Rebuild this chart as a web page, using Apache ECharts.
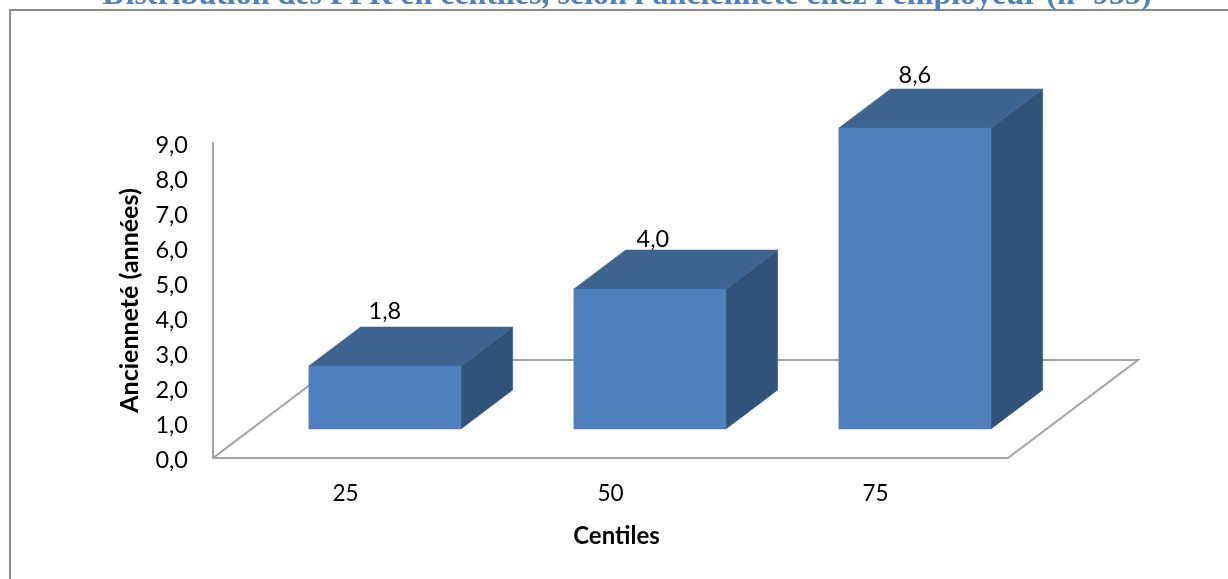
<!DOCTYPE html>
<html>
<head>
<meta charset="utf-8">
<style>html,body{margin:0;padding:0;background:#fff;overflow:hidden}#c{width:1228px;height:579px}</style>
<script src="https://cdn.jsdelivr.net/npm/echarts@6/dist/echarts.min.js"></script>
</head>
<body>
<div id="c"></div>
<script>
const titleText = "Distribution des PPR en centiles, selon l'ancienneté chez l'employeur (n=955)";
const yAxisName = "Ancienneté (années)";
const xAxisName = "Centiles";
const categories = ["25", "50", "75"];
const values = [1.8, 4.0, 8.6];
const labelNudgeX = [0, 3, 0];
const labelNudgeY = [2, 7, 4];

const FONT = "Lato";
const DEPTH_X = 130, DEPTH_Y = 98;       // oblique projection of the floor
const BAR_FRACTION = 0.574;
const BAR_NEAR = 0.303, BAR_FAR = 0.694; // depth span of a bar on the floor
const AXIS_GREY = "#a3a3a3";

const poly = (points, fill) => ({
  type: "polygon",
  shape: { points },
  style: { fill, stroke: fill, lineWidth: 0.5 }
});

function renderFloor(params, api) {
  const band = api.size([1, 0])[0];
  const first = api.coord([0, 0]);
  const last = api.coord([categories.length - 1, 0]);
  const a = [first[0] - band / 2, first[1]];
  const b = [last[0] + band / 2, last[1]];
  return {
    type: "polyline",
    shape: { points: [
      a,
      [a[0] + DEPTH_X, a[1] - DEPTH_Y],
      [b[0] + DEPTH_X, b[1] - DEPTH_Y],
      b
    ] },
    style: { fill: null, stroke: AXIS_GREY, lineWidth: 2 },
    silent: true
  };
}

function renderBar(params, api) {
  const i = api.value(0), v = api.value(1);
  const base = api.coord([i, 0]);
  const top = api.coord([i, v]);
  const w = api.size([1, 0])[0] * BAR_FRACTION;
  const nx = BAR_NEAR * DEPTH_X, ny = 0.296 * DEPTH_Y;
  const dx = (BAR_FAR - 0.296) * DEPTH_X, dy = (BAR_FAR - 0.296) * DEPTH_Y;
  const l = base[0] - w / 2 + nx, r = base[0] + w / 2 + nx;
  const by = base[1] - ny, ty = top[1] - ny;
  return {
    type: "group",
    children: [
      poly([[r, by], [r + dx, by - dy], [r + dx, ty - dy], [r, ty]], "#325379"),
      poly([[l, ty], [r, ty], [r + dx, ty - dy], [l + dx, ty - dy]], "#3d6490"),
      poly([[l, by], [r, by], [r, ty], [l, ty]], "#4f7fbc"),
      {
        type: "text",
        style: {
          x: (l + r) / 2 + labelNudgeX[i],
          y: ty - dy - 18 + labelNudgeY[i],
          text: v.toFixed(1).replace(".", ","),
          font: "23.5px " + FONT,
          fill: "#000",
          align: "center",
          verticalAlign: "middle"
        }
      }
    ]
  };
}

const chart = echarts.init(document.getElementById("c"), null, { renderer: "canvas" });
chart.setOption({
  animation: false,
  backgroundColor: "#ffffff",
  title: {
    text: titleText,
    left: 627,
    textAlign: "center",
    top: -20,
    padding: 0,
    textStyle: { fontFamily: "Liberation Serif", fontWeight: "bold", fontSize: 32, color: "#4f81bd" }
  },
  graphic: [{
    type: "rect",
    z: -1,
    shape: { x: 10, y: 10, width: 1300, height: 620 },
    style: { fill: "none", stroke: "#8c8c8c", lineWidth: 2 }
  }],
  grid: { left: 213, top: 143, width: 795, height: 315 },
  xAxis: {
    type: "category",
    data: categories,
    axisLine: { lineStyle: { color: AXIS_GREY, width: 2 } },
    axisTick: { show: false },
    axisLabel: { fontFamily: FONT, fontSize: 22.5, color: "#000", margin: 24 },
    name: xAxisName,
    nameLocation: "middle",
    nameGap: 66,
    nameTextStyle: { fontFamily: FONT, fontSize: 24, fontWeight: "bold", color: "#000", padding: [0, 0, 0, 12] }
  },
  yAxis: {
    type: "value",
    min: 0,
    max: 9,
    interval: 1,
    splitLine: { show: false },
    axisLine: { show: true, lineStyle: { color: AXIS_GREY, width: 2 } },
    axisTick: { show: false },
    axisLabel: {
      margin: 25,
      formatter: v => "{t|" + v.toFixed(1).replace(".", ",") + "}",
      rich: { t: { fontFamily: FONT, fontSize: 23.5, color: "#000", padding: [4, 0, 0, 0] } }
    },
    name: yAxisName,
    nameLocation: "middle",
    nameGap: 71,
    nameTextStyle: { fontFamily: FONT, fontSize: 25, fontWeight: "bold", color: "#000" }
  },
  series: [
    { type: "custom", name: "Plancher", data: [[0, 0]], renderItem: renderFloor, z: 1, silent: true, clip: false },
    { type: "custom", name: "Ancienneté", data: values.map((v, i) => [i, v]), encode: { x: 0, y: 1 }, renderItem: renderBar, z: 2, clip: false }
  ]
});
</script>
</body>
</html>
